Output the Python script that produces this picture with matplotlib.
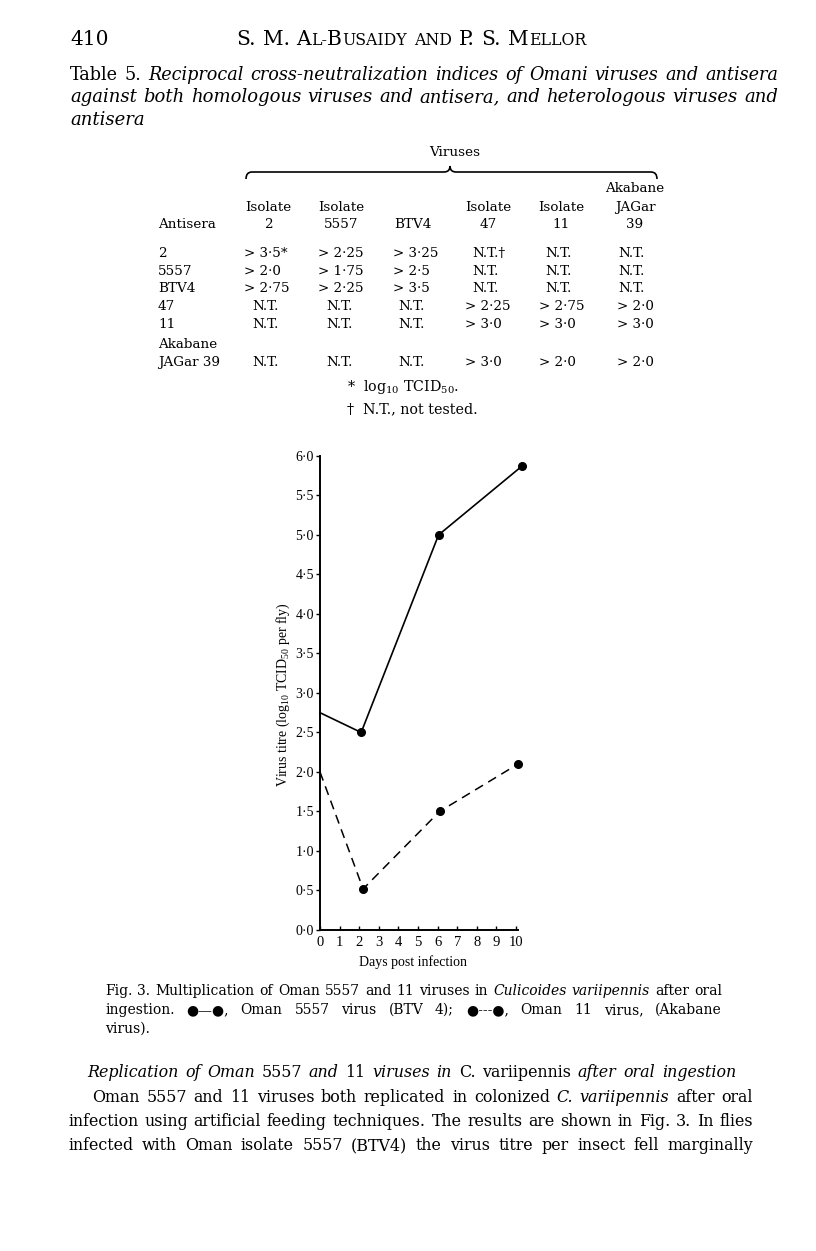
import matplotlib
matplotlib.use("Agg")
import matplotlib.pyplot as plt
from matplotlib.path import Path
from matplotlib.patches import PathPatch

plt.rcParams["font.family"] = ["DejaVu Serif", "DejaVu Sans"]
plt.rcParams["mathtext.fontset"] = "custom"
plt.rcParams["mathtext.rm"] = "Liberation Serif"
plt.rcParams["mathtext.it"] = "Liberation Serif:italic"

CHART_FONT = ["Liberation Serif", "DejaVu Sans"]

# Fig. 3 -- virus titre in C. variipennis after oral ingestion
days_5557 = [0, 2.1, 6.05, 10.3]
titre_5557 = [2.75, 2.5, 5.0, 5.87]
days_11 = [0, 2.2, 6.1, 10.1]
titre_11 = [2.0, 0.52, 1.5, 2.1]
y_ticks = [0.0, 0.5, 1.0, 1.5, 2.0, 2.5, 3.0, 3.5, 4.0, 4.5, 5.0, 5.5, 6.0]
x_ticks = [0, 1, 2, 3, 4, 5, 6, 7, 8, 9, 10]

# Table 5 -- reciprocal cross-neutralization indices
virus_headers = [["Isolate", "2"], ["Isolate", "5557"], ["BTV4"],
                 ["Isolate", "47"], ["Isolate", "11"], ["Akabane", "JAGar", "39"]]
antisera = [["2"], ["5557"], ["BTV4"], ["47"], ["11"], ["Akabane", "JAGar 39"]]
indices = [
    ["> 3·5*", "> 2·25", "> 3·25", "N.T.†", "N.T.", "N.T."],
    ["> 2·0", "> 1·75", "> 2·5", "N.T.", "N.T.", "N.T."],
    ["> 2·75", "> 2·25", "> 3·5", "N.T.", "N.T.", "N.T."],
    ["N.T.", "N.T.", "N.T.", "> 2·25", "> 2·75", "> 2·0"],
    ["N.T.", "N.T.", "N.T.", "> 3·0", "> 3·0", "> 3·0"],
    ["N.T.", "N.T.", "N.T.", "> 3·0", "> 2·0", "> 2·0"],
]

table_caption = [
    [("Table 5.", "n"), ("Reciprocal cross-neutralization indices of Omani viruses and antisera", "i")],
    [("against both homologous viruses and antisera, and heterologous viruses and", "i")],
    [("antisera", "i")],
]
fig_caption = [
    [("Fig. 3. Multiplication of Oman 5557 and 11 viruses in", "n"),
     ("Culicoides variipennis", "i"), ("after oral", "n")],
    [("ingestion. ●—●, Oman 5557 virus (BTV 4); ●---●, Oman 11 virus, (Akabane", "n")],
    [("virus).", "n")],
]
body_heading = [("Replication of Oman", "i"), ("5557", "n"), ("and", "i"), ("11", "n"),
                ("viruses in", "i"), ("C. variipennis", "n"), ("after oral ingestion", "i")]
body_text = [
    [("Oman 5557 and 11 viruses both replicated in colonized", "n"),
     ("C. variipennis", "i"), ("after oral", "n")],
    [("infection using artificial feeding techniques. The results are shown in Fig. 3. In flies", "n")],
    [("infected with Oman isolate 5557 (BTV4) the virus titre per insect fell marginally", "n")],
]

fig = plt.figure(figsize=(8.16, 12.51), dpi=100)
renderer = fig.canvas.get_renderer()

# page in pixel coordinates (y down)
page = fig.add_axes([0, 0, 1, 1])
page.set_xlim(0, 816)
page.set_ylim(1251, 0)
page.axis("off")

SPACE = 0.32 * 100 / 72  # natural word space, px per pt


def text_width(txt, style, size):
    t = page.text(0, 0, txt, fontsize=size,
                  fontstyle="italic" if style == "i" else "normal")
    w = t.get_window_extent(renderer).width
    t.remove()
    return w


def split_words(runs, size):
    return [[(w, style, size)] for text, style in runs for w in text.split()]


def natural_width(words, space_size):
    w = sum(text_width(t, s, z) for pieces in words for t, s, z in pieces)
    return w + (len(words) - 1) * SPACE * space_size


def place_words(words, y, x0, x1=None, space=4.0):
    """words: list of lists of (text, style, size) pieces. Justify to x1 if given."""
    arts, widths = [], []
    for pieces in words:
        row, w = [], 0.0
        for txt, style, size in pieces:
            t = page.text(0, y, txt, fontsize=size, va="baseline", ha="left",
                          fontstyle="italic" if style == "i" else "normal")
            tw = t.get_window_extent(renderer).width
            row.append((t, tw))
            w += tw
        arts.append(row)
        widths.append(w)
    if x1 is None or len(words) < 2:
        gap = space
    else:
        gap = (x1 - x0 - sum(widths)) / (len(words) - 1)
    x = x0
    for row, w in zip(arts, widths):
        for t, tw in row:
            t.set_x(x)
            x += tw
        x += gap


def set_paragraph(lines, spans, baselines, key, base=10.0):
    """Type size taken from line `key` set with normal spaces; lines too long shrink."""
    x0, x1 = spans[key]
    size = base * (x1 - x0) / natural_width(split_words(lines[key], base), base) * 0.99
    for runs, (x0, x1), y in zip(lines, spans, baselines):
        s = size
        if x1 is not None:
            nat = natural_width(split_words(runs, s), s)
            if nat > x1 - x0:
                s = s * (x1 - x0) / nat * 0.985
        place_words(split_words(runs, s), y, x0, x1, space=SPACE * s)


# running head with small caps
def head_words(big):
    small = big * 0.78
    return [[("S.", "n", big)], [("M.", "n", big)],
            [("A", "n", big), ("L-", "n", small), ("B", "n", big), ("USAIDY", "n", small)],
            [("AND", "n", small)], [("P.", "n", big)], [("S.", "n", big)],
            [("M", "n", big), ("ELLOR", "n", small)]]


head_big = 10 * (586 - 236) / natural_width(head_words(10), 10) * 0.985
place_words(head_words(head_big), 45, 236, 586)
page.text(70, 45, "410", fontsize=head_big, va="baseline")

set_paragraph(table_caption, [(70, 778), (70, 778), (70, None)], [80, 102.5, 125], key=1)

# table header
tsize = 9.7
page.text(455, 156, "Viruses", fontsize=tsize, ha="center", va="baseline")
brace = Path(
    [(246, 179), (246, 172), (252, 172), (444, 172), (450, 172), (450, 166),
     (450, 172), (456, 172), (651, 172), (657, 172), (657, 179)],
    [Path.MOVETO, Path.CURVE3, Path.CURVE3, Path.LINETO, Path.CURVE3, Path.CURVE3,
     Path.CURVE3, Path.CURVE3, Path.LINETO, Path.CURVE3, Path.CURVE3])
page.add_patch(PathPatch(brace, fill=False, lw=1.2, color="k"))

col_centers = [268, 341, 413, 488, 561, 635]
gt_left = [244, 318, 393, 465, 539, 617]
nt_left = [252, 326, 398, 472, 545, 618]
header_rows = [192, 211, 228.5]
for xc, lines in zip(col_centers, virus_headers):
    for k, txt in enumerate(lines):
        page.text(xc, header_rows[3 - len(lines) + k], txt, fontsize=tsize,
                  ha="center", va="baseline")
page.text(158, 228.5, "Antisera", fontsize=tsize, va="baseline")

row_base = [257, 275, 292, 310, 328, 366]
for r, (label, vals) in enumerate(zip(antisera, indices)):
    yb = row_base[r]
    for k, txt in enumerate(label[::-1]):
        page.text(158, yb - k * 18.5, txt, fontsize=tsize, va="baseline")
    for c, v in enumerate(vals):
        xl = gt_left[c] if v.startswith(">") else nt_left[c]
        page.text(xl, yb, v, fontsize=tsize, va="baseline")

page.text(347, 391, r"*  log$\mathregular{_{10}}$ TCID$\mathregular{_{50}}$.",
          fontsize=10.3, va="baseline")
page.text(347, 413, "†  N.T., not tested.", fontsize=10.3, va="baseline")

# Fig. 3 chart
ax = fig.add_axes([320 / 816, 1 - 930 / 1251, 205.8 / 816, 482 / 1251])
ax.patch.set_alpha(0)
ax.plot(days_5557, titre_5557, color="k", lw=1.2, marker="o", ms=5.5,
        markevery=[1, 2, 3], clip_on=False)
ax.plot(days_11, titre_11, color="k", lw=1.1, ls=(0, (6, 4)), marker="o", ms=5.5,
        markevery=[1, 2, 3], clip_on=False)
ax.set_xlim(0, 10.5)
ax.set_ylim(0, 6.1)
for side in ["top", "right"]:
    ax.spines[side].set_visible(False)
ax.spines["left"].set_bounds(0, 6)
ax.spines["bottom"].set_bounds(0, 10.1)
ax.spines["left"].set_linewidth(1.4)
ax.spines["bottom"].set_linewidth(1.4)
ax.set_xticks(x_ticks)
ax.set_yticks(y_ticks)
ax.set_yticklabels([f"{v:.1f}".replace(".", "·") for v in y_ticks])
ax.tick_params(axis="y", direction="out", length=3, width=1, pad=1.5)
ax.tick_params(axis="x", direction="in", length=3, width=1, pad=4)
for lab in ax.get_yticklabels():
    lab.set_family(CHART_FONT)
    lab.set_fontsize(10)
for lab in ax.get_xticklabels():
    lab.set_family(CHART_FONT)
    lab.set_fontsize(10.5)

page.text(283, 695, r"Virus titre (log$\mathregular{_{10}}$ TCID$\mathregular{_{50}}$ per fly)",
          fontsize=10, family=CHART_FONT, rotation=90, ha="center", va="center")
page.text(413, 962, "Days post infection", fontsize=10, family=CHART_FONT,
          ha="center", va="center")

set_paragraph(fig_caption, [(105, 722), (105, 722), (105, None)], [995, 1014, 1033], key=0)

set_paragraph([body_heading] + body_text,
              [(87, 736), (92, 753), (68, 753), (68, 753)],
              [1077, 1102, 1126, 1150], key=2)

fig.savefig("out.png", dpi=100)
